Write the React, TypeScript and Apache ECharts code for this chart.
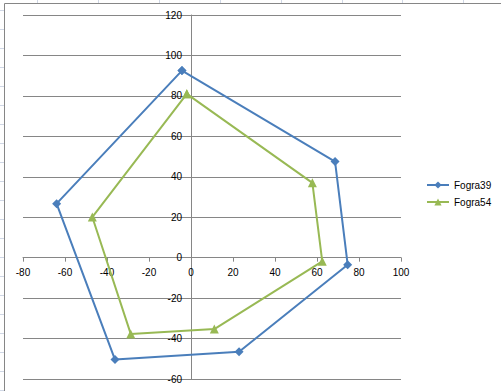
import React, { useEffect, useRef } from "react";
import * as echarts from "echarts";

const seriesNames = ["Fogra39", "Fogra54"];
const fogra39X = [-4.3, 68.6, 74.6, 22.9, -36.2, -64.0, -4.3];
const fogra39Y = [92.5, 47.5, -3.5, -46.5, -50.4, 26.7, 92.5];
const fogra54X = [-2.0, 57.8, 62.5, 11.1, -28.7, -47.0, -2.0];
const fogra54Y = [81.0, 37.0, -1.8, -35.3, -37.7, 20.1, 81.0];
const xTicks = [-80, -60, -40, -20, 0, 20, 40, 60, 80, 100];
const yTicks = [-60, -40, -20, 0, 20, 40, 60, 80, 100, 120];

const FONT = "'Liberation Sans', Arial, sans-serif";

const GRID_LEFT = 23;
const GRID_RIGHT = 100;
const GRID_TOP = 15;
const GRID_BOTTOM = 12;
const W = 501;
const H = 391;

export default function App() {
  const ref = useRef<HTMLDivElement>(null);
  useEffect(() => {
    document.body.style.margin = "0";
    const chart = echarts.init(ref.current!, null, { renderer: "svg" });
    const bg: any[] = [];
    for (let y = 10; y < H; y += 19) {
      bg.push({ type: "line", shape: { x1: 0, y1: y + 0.5, x2: 4, y2: y + 0.5 }, style: { stroke: "#D0D7E5", lineWidth: 1 }, silent: true });
    }
    for (let i = 0; i < 9; i++) {
      const x = Math.round(37 + 60.9 * i) + 0.5;
      bg.push({ type: "line", shape: { x1: x, y1: 0, x2: x, y2: 3 }, style: { stroke: "#D0D7E5", lineWidth: 1 }, silent: true });
    }
    bg.push({ type: "line", shape: { x1: 4.5, y1: 3.5, x2: W, y2: 3.5 }, style: { stroke: "#868686", lineWidth: 1 }, silent: true });
    bg.push({ type: "line", shape: { x1: 4.5, y1: 3.5, x2: 4.5, y2: H }, style: { stroke: "#868686", lineWidth: 1 }, silent: true });

    const toPairs = (xs: number[], ys: number[]) => xs.map((x, i) => [x, ys[i]]);

    const xMin = xTicks[0];
    const xMax = xTicks[xTicks.length - 1];
    const yMin = yTicks[0];
    const yMax = yTicks[yTicks.length - 1];
    const plotW = W - GRID_LEFT - GRID_RIGHT;
    const plotH = H - GRID_TOP - GRID_BOTTOM;
    const xAxisOffset = -((0 - yMin) / (yMax - yMin)) * plotH;
    const yAxisOffset = -((0 - xMin) / (xMax - xMin)) * plotW;

    chart.setOption({
      animation: false,
      graphic: bg,
      grid: {
        left: GRID_LEFT,
        right: GRID_RIGHT,
        top: GRID_TOP,
        bottom: GRID_BOTTOM,
        containLabel: false,
        outerBoundsMode: "none",
      },
      legend: {
        orient: "vertical",
        left: 426,
        top: 180,
        padding: 0,
        itemWidth: 22,
        itemHeight: 9,
        itemGap: 7,
        data: seriesNames,
        textStyle: { fontFamily: FONT, fontSize: 10, color: "#000" },
      },
      xAxis: {
        type: "value",
        min: xMin,
        max: xMax,
        interval: 20,
        position: "bottom",
        offset: xAxisOffset,
        axisLine: { onZero: false, lineStyle: { color: "#868686", width: 1 } },
        axisTick: { show: true, length: 4, inside: false, lineStyle: { color: "#868686" } },
        axisLabel: { fontFamily: FONT, fontSize: 10, color: "#000", margin: 10 },
        splitLine: { show: false },
      },
      yAxis: {
        type: "value",
        min: yMin,
        max: yMax,
        interval: 20,
        position: "left",
        offset: yAxisOffset,
        axisLine: { onZero: false, lineStyle: { color: "#868686", width: 1 } },
        axisTick: { show: false },
        axisLabel: { fontFamily: FONT, fontSize: 10, color: "#000", margin: 9 },
        splitLine: { show: true, lineStyle: { color: "#868686", width: 1 } },
      },
      series: [
        {
          name: seriesNames[0],
          type: "line",
          data: toPairs(fogra39X, fogra39Y),
          symbol: "diamond",
          symbolSize: 9,
          showAllSymbol: true,
          lineStyle: { color: "#4A7EBB", width: 2 },
          itemStyle: { color: "#4A7EBB" },
        },
        {
          name: seriesNames[1],
          type: "line",
          data: toPairs(fogra54X, fogra54Y),
          symbol: "triangle",
          symbolSize: 9,
          showAllSymbol: true,
          lineStyle: { color: "#98B954", width: 2 },
          itemStyle: { color: "#98B954" },
        },
      ],
    });
    return () => chart.dispose();
  }, []);
  return <div ref={ref} style={{ width: W, height: H }} />;
}
